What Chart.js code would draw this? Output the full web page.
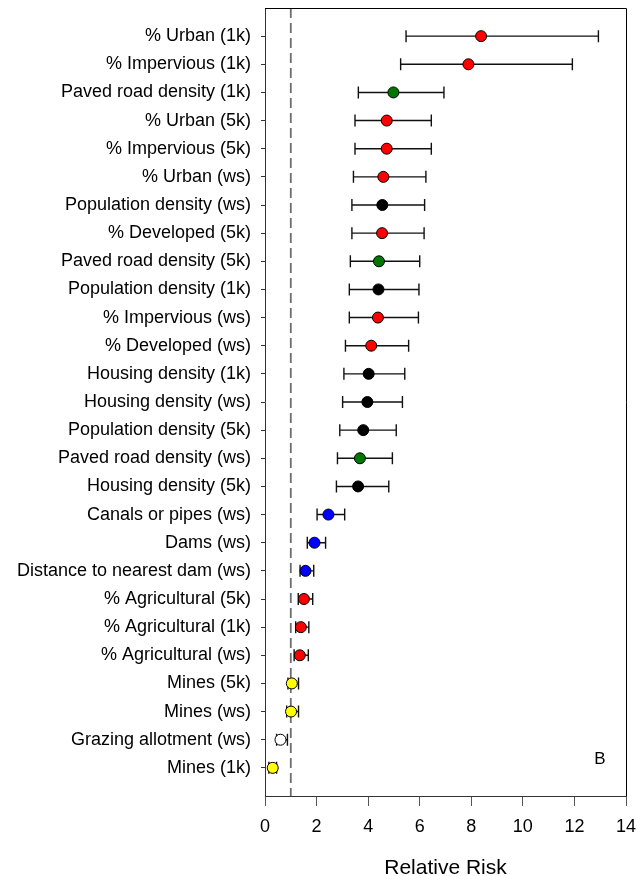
<!DOCTYPE html>
<html lang="en">
<head>
    <meta charset="UTF-8">
    <title>Relative Risk</title>
    <script src="https://cdn.jsdelivr.net/npm/chart.js"></script>
    <style>
        html, body { margin: 0; padding: 0; background: #fff; }
        #wrap { width: 637px; height: 876px; }
    </style>
</head>
<body>
    <div id="wrap"><canvas id="myChart"></canvas></div>
    <script>
        // Categories, top to bottom
        const categories = [
            '% Urban (1k)', '% Impervious (1k)', 'Paved road density (1k)', '% Urban (5k)',
            '% Impervious (5k)', '% Urban (ws)', 'Population density (ws)', '% Developed (5k)',
            'Paved road density (5k)', 'Population density (1k)', '% Impervious (ws)',
            '% Developed (ws)', 'Housing density (1k)', 'Housing density (ws)',
            'Population density (5k)', 'Paved road density (ws)', 'Housing density (5k)',
            'Canals or pipes (ws)', 'Dams (ws)', 'Distance to nearest dam (ws)',
            '% Agricultural (5k)', '% Agricultural (1k)', '% Agricultural (ws)',
            'Mines (5k)', 'Mines (ws)', 'Grazing allotment (ws)', 'Mines (1k)'
        ];
        // Relative risk and confidence limits
        const rr    = [8.38, 7.89, 4.98, 4.72, 4.72, 4.59, 4.55, 4.54, 4.42, 4.40, 4.38, 4.12, 4.02, 3.97,
                       3.81, 3.68, 3.61, 2.46, 1.92, 1.57, 1.51, 1.39, 1.35, 1.04, 1.01, 0.60, 0.30];
        const lower = [5.47, 5.26, 3.62, 3.49, 3.49, 3.43, 3.37, 3.37, 3.31, 3.27, 3.27, 3.12, 3.06, 3.01,
                       2.90, 2.81, 2.77, 2.02, 1.64, 1.36, 1.29, 1.19, 1.13, 0.89, 0.84, 0.45, 0.15];
        const upper = [12.93, 11.92, 6.94, 6.45, 6.45, 6.24, 6.19, 6.17, 6.00, 5.97, 5.95, 5.57, 5.42, 5.33,
                       5.09, 4.94, 4.80, 3.09, 2.35, 1.89, 1.85, 1.70, 1.68, 1.30, 1.30, 0.87, 0.45];
        // Variable group: colour of the marker
        const groups = ['urban', 'urban', 'road', 'urban', 'urban', 'urban', 'people', 'urban',
                        'road', 'people', 'urban', 'urban', 'people', 'people', 'people', 'road',
                        'people', 'water', 'water', 'water', 'urban', 'urban', 'urban',
                        'mines', 'mines', 'grazing', 'mines'];
        const xTicks = [0, 2, 4, 6, 8, 10, 12, 14];
        const referenceRisk = 1;

        const groupColors = {
            urban: '#ff0000', road: '#007800', people: '#000000',
            water: '#0000ff', mines: '#ffff00', grazing: '#ffffff'
        };
        const font = 'Liberation Sans, Arial, sans-serif';

        // error bars and the dashed line at RR = 1
        const errorBarPlugin = {
            id: 'errorBars',
            beforeDatasetsDraw(chart) {
                const { ctx, chartArea, scales: { x, y } } = chart;
                ctx.save();
                const xr = x.getPixelForValue(referenceRisk);
                ctx.strokeStyle = '#6e6e6e';
                ctx.lineWidth = 1.8;
                ctx.setLineDash([10, 5]);
                ctx.beginPath();
                ctx.moveTo(xr, chartArea.top);
                ctx.lineTo(xr, chartArea.bottom);
                ctx.stroke();
                ctx.setLineDash([]);

                ctx.strokeStyle = '#111';
                ctx.lineWidth = 1.4;
                rr.forEach((v, i) => {
                    const py = y.getPixelForValue(i);
                    const x1 = x.getPixelForValue(lower[i]);
                    const x2 = x.getPixelForValue(upper[i]);
                    ctx.beginPath();
                    ctx.moveTo(x1, py); ctx.lineTo(x2, py);
                    ctx.moveTo(x1, py - 6); ctx.lineTo(x1, py + 6);
                    ctx.moveTo(x2, py - 6); ctx.lineTo(x2, py + 6);
                    ctx.stroke();
                });
                ctx.restore();
            },
            afterDraw(chart) {
                const { ctx, chartArea } = chart;
                ctx.save();
                // top and right frame
                ctx.strokeStyle = '#000';
                ctx.lineWidth = 1;
                ctx.beginPath();
                ctx.moveTo(chartArea.left, chartArea.top + 0.5);
                ctx.lineTo(chartArea.right + 0.5, chartArea.top + 0.5);
                ctx.lineTo(chartArea.right + 0.5, chartArea.bottom);
                ctx.stroke();
                // panel letter
                ctx.fillStyle = '#000';
                ctx.font = '17px ' + font;
                ctx.textAlign = 'center';
                ctx.textBaseline = 'middle';
                ctx.fillText('B', chartArea.right - 26, chartArea.bottom - 37);
                ctx.restore();
            }
        };

        const ctx = document.getElementById('myChart').getContext('2d');
        new Chart(ctx, {
            type: 'scatter',
            data: {
                datasets: [{
                    data: rr.map((v, i) => ({ x: v, y: i })),
                    pointRadius: 5.5,
                    pointHoverRadius: 5.5,
                    pointBorderWidth: 1,
                    pointBorderColor: '#000',
                    pointBackgroundColor: groups.map(g => groupColors[g])
                }]
            },
            plugins: [errorBarPlugin],
            options: {
                responsive: true,
                maintainAspectRatio: false,
                animation: false,
                layout: { padding: { top: 8, right: 11, left: 0, bottom: 0 } },
                plugins: { legend: { display: false }, tooltip: { enabled: false } },
                scales: {
                    x: {
                        type: 'linear',
                        min: 0,
                        max: 14,
                        afterBuildTicks(scale) { scale.ticks = xTicks.map(v => ({ value: v })); },
                        afterFit(scale) {
                            scale.height = 80;
                            scale.paddingLeft = 0;
                            scale.paddingRight = 0;
                        },
                        border: { display: true, color: '#333', width: 1 },
                        grid: { drawOnChartArea: false, tickLength: 10, color: '#555', tickWidth: 1 },
                        ticks: { color: '#000', font: { family: font, size: 18 }, padding: 10, maxRotation: 0 },
                        title: {
                            display: true, text: 'Relative Risk', color: '#000',
                            font: { family: font, size: 21 }, padding: { top: 0, bottom: -5 }
                        }
                    },
                    y: {
                        type: 'linear',
                        min: -1,
                        max: categories.length,
                        reverse: true,
                        afterBuildTicks(scale) { scale.ticks = categories.map((c, i) => ({ value: i })); },
                        afterFit(scale) {
                            scale.width = 265;
                            scale.paddingTop = 0;
                            scale.paddingBottom = 0;
                        },
                        border: { display: true, color: '#333', width: 1 },
                        grid: { drawOnChartArea: false, tickLength: 4, color: '#333' },
                        ticks: {
                            color: '#000',
                            font: { family: font, size: 18 },
                            padding: 10,
                            autoSkip: false,
                            callback: (v) => categories[v] ?? ''
                        }
                    }
                }
            }
        });
    </script>
</body>
</html>
